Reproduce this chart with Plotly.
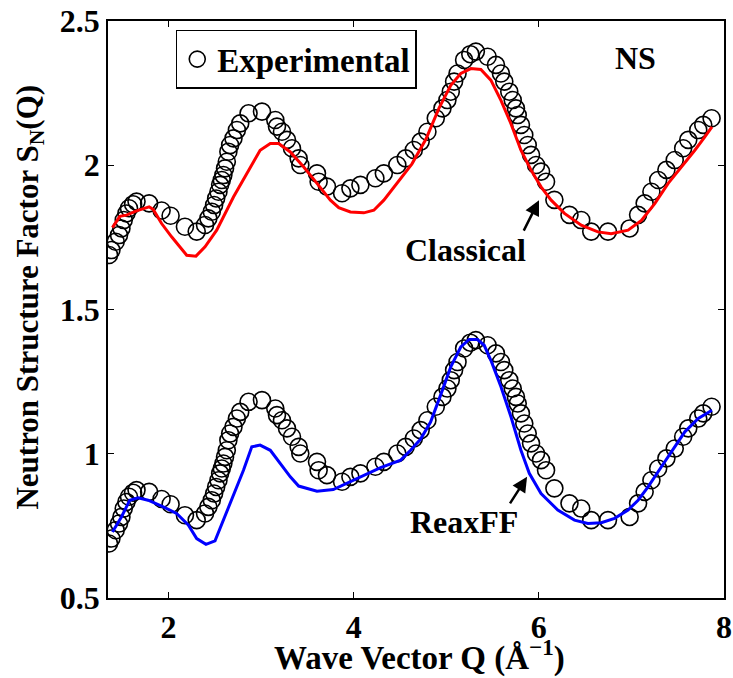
import plotly.graph_objects as go

# ---- data ----
exp_q = [1.358, 1.384, 1.430, 1.466, 1.492, 1.517, 1.546, 1.574, 1.618, 1.655,
         1.791, 1.926, 2.023, 2.178, 2.305, 2.395, 2.431, 2.468, 2.493, 2.515,
         2.540, 2.558, 2.576, 2.593, 2.611, 2.630, 2.647, 2.666, 2.702, 2.739,
         2.775, 2.865, 3.010, 3.154, 3.172, 3.226, 3.280, 3.334, 3.406, 3.424,
         3.604, 3.622, 3.712, 3.875, 3.965, 4.073, 4.235, 4.326, 4.472, 4.562,
         4.650, 4.724, 4.797, 4.887, 4.959, 5.013, 5.049, 5.085, 5.122, 5.193,
         5.260, 5.320, 5.447, 5.537, 5.591, 5.627, 5.681, 5.718, 5.753, 5.772,
         5.807, 5.843, 5.880, 5.916, 5.970, 6.024, 6.078, 6.168, 6.331, 6.458,
         6.566, 6.747, 6.981, 7.072, 7.143, 7.216, 7.289, 7.378, 7.468, 7.559,
         7.614, 7.722, 7.776, 7.866]

exp_lower = [0.689, 0.706, 0.735, 0.758, 0.781, 0.810, 0.833, 0.851, 0.865, 0.874,
             0.868, 0.843, 0.825, 0.787, 0.770, 0.793, 0.816, 0.839, 0.862, 0.885,
             0.908, 0.932, 0.949, 0.966, 0.989, 1.012, 1.047, 1.070, 1.093, 1.122,
             1.145, 1.180, 1.186, 1.157, 1.134, 1.116, 1.088, 1.059, 1.024, 1.001,
             0.972, 0.943, 0.926, 0.903, 0.920, 0.932, 0.955, 0.972, 1.001, 1.024,
             1.053, 1.082, 1.116, 1.163, 1.197, 1.226, 1.255, 1.290, 1.318, 1.365,
             1.385, 1.394, 1.376, 1.348, 1.318, 1.290, 1.255, 1.226, 1.197, 1.174,
             1.140, 1.105, 1.070, 1.036, 1.001, 0.978, 0.943, 0.880, 0.828, 0.810,
             0.770, 0.770, 0.781, 0.828, 0.868, 0.908, 0.949, 0.984, 1.018, 1.059,
             1.088, 1.122, 1.140, 1.163]

exp_upper = [1.689, 1.706, 1.735, 1.758, 1.781, 1.810, 1.833, 1.851, 1.865, 1.874,
             1.868, 1.843, 1.825, 1.787, 1.770, 1.793, 1.816, 1.839, 1.862, 1.885,
             1.908, 1.932, 1.949, 1.966, 1.989, 2.012, 2.047, 2.070, 2.093, 2.122,
             2.145, 2.180, 2.186, 2.157, 2.134, 2.116, 2.088, 2.059, 2.024, 2.001,
             1.972, 1.943, 1.926, 1.903, 1.920, 1.932, 1.955, 1.972, 2.001, 2.024,
             2.053, 2.082, 2.116, 2.163, 2.197, 2.226, 2.255, 2.290, 2.318, 2.365,
             2.385, 2.394, 2.376, 2.348, 2.318, 2.290, 2.255, 2.226, 2.197, 2.174,
             2.140, 2.105, 2.070, 2.036, 2.001, 1.978, 1.943, 1.880, 1.828, 1.810,
             1.770, 1.770, 1.781, 1.828, 1.868, 1.908, 1.949, 1.984, 2.018, 2.059,
             2.088, 2.122, 2.140, 2.163]

classical_q = [1.395, 1.474, 1.546, 1.655, 1.791, 1.835, 1.926, 2.034, 2.197, 2.297,
               2.395, 2.521, 2.702, 2.882, 2.990, 3.100, 3.190, 3.316, 3.461, 3.604,
               3.749, 3.839, 3.965, 4.110, 4.218, 4.326, 4.470, 4.630, 4.780, 4.922,
               5.049, 5.157, 5.266, 5.374, 5.482, 5.591, 5.699, 5.807, 5.916, 6.024,
               6.133, 6.277, 6.458, 6.638, 6.782, 6.964, 7.108, 7.252, 7.397, 7.541,
               7.685, 7.793, 7.870]
classical_s = [1.784, 1.823, 1.827, 1.842, 1.856, 1.847, 1.798, 1.752, 1.688, 1.685,
               1.717, 1.775, 1.890, 1.994, 2.052, 2.075, 2.075, 2.046, 1.994, 1.937,
               1.879, 1.853, 1.838, 1.835, 1.844, 1.879, 1.940, 2.005, 2.090, 2.198,
               2.277, 2.318, 2.335, 2.332, 2.295, 2.225, 2.144, 2.052, 1.983, 1.925,
               1.879, 1.833, 1.792, 1.769, 1.763, 1.775, 1.809, 1.867, 1.937, 1.994,
               2.052, 2.098, 2.133]

reaxff_q = [1.395, 1.492, 1.582, 1.672, 1.780, 1.944, 2.088, 2.214, 2.305, 2.405,
            2.503, 2.593, 2.702, 2.810, 2.900, 2.990, 3.100, 3.208, 3.316, 3.406,
            3.604, 3.780, 3.965, 4.146, 4.291, 4.508, 4.615, 4.722, 4.831, 4.941,
            5.049, 5.157, 5.247, 5.338, 5.410, 5.482, 5.591, 5.699, 5.807, 5.897,
            6.024, 6.205, 6.385, 6.530, 6.674, 6.818, 6.964, 7.072, 7.180, 7.324,
            7.468, 7.577, 7.722, 7.870]
reaxff_s = [0.729, 0.781, 0.839, 0.847, 0.839, 0.816, 0.793, 0.753, 0.706, 0.686,
            0.698, 0.770, 0.862, 0.943, 1.024, 1.030, 1.012, 0.966, 0.920, 0.888,
            0.870, 0.876, 0.903, 0.932, 0.952, 0.978, 1.012, 1.050, 1.110, 1.205,
            1.301, 1.370, 1.396, 1.396, 1.376, 1.324, 1.232, 1.128, 1.012, 0.932,
            0.862, 0.805, 0.770, 0.758, 0.761, 0.776, 0.805, 0.839, 0.885, 0.955,
            1.024, 1.076, 1.122, 1.151]

x_ticks = [2, 4, 6, 8]
y_ticks = [0.5, 1, 1.5, 2, 2.5]

FONT = "Liberation Serif"

fig = go.Figure()

marker_style = dict(symbol="circle-open", size=17, color="black", line=dict(width=1.6, color="black"))

fig.add_trace(go.Scatter(x=exp_q, y=exp_upper, mode="markers", marker=marker_style,
                         name="<b>Experimental</b>", showlegend=True))
fig.add_trace(go.Scatter(x=exp_q, y=exp_lower, mode="markers", marker=marker_style,
                         name="Experimental", showlegend=False))
fig.add_trace(go.Scatter(x=classical_q, y=classical_s, mode="lines",
                         line=dict(color="#ff0000", width=3), name="Classical", showlegend=False))
fig.add_trace(go.Scatter(x=reaxff_q, y=reaxff_s, mode="lines",
                         line=dict(color="#0000ff", width=3), name="ReaxFF", showlegend=False))

axis_common = dict(showline=True, linecolor="black", linewidth=1.5, mirror="ticks",
                   ticks="inside", ticklen=6, tickwidth=1, tickcolor="black",
                   showgrid=False, zeroline=False, automargin=False,
                   tickfont=dict(family=FONT, size=32, color="black"))

fig.update_xaxes(range=[1.347, 8], tickvals=x_ticks, ticktext=["<b>%g</b>" % v for v in x_ticks],
                 ticklabelstandoff=0, **axis_common)
fig.update_yaxes(range=[0.5, 2.5], tickvals=y_ticks, ticktext=["<b>%g</b>" % v for v in y_ticks],
                 **axis_common)

ann_font = dict(family=FONT, size=32, color="black")

fig.update_layout(
    width=733, height=678,
    margin=dict(l=108, r=9, t=21, b=80, autoexpand=False),
    paper_bgcolor="white", plot_bgcolor="white",
    font=dict(family=FONT, color="black"),
    legend=dict(x=0.110, y=0.985, xanchor="left", yanchor="top",
                bordercolor="black", borderwidth=1.5, bgcolor="white",
                font=dict(family=FONT, size=33, color="black")),
    annotations=[
        dict(text="<b>NS</b>", x=7.049, y=2.372, xref="x", yref="y", showarrow=False, font=ann_font),
        dict(text="<b>Classical</b>", x=5.212, y=1.705, xref="x", yref="y", showarrow=False, font=ann_font),
        dict(text="<b>ReaxFF</b>", x=5.190, y=0.763, xref="x", yref="y", showarrow=False, font=ann_font),
        dict(text="", x=6.002, y=1.879, xref="x", yref="y", ax=-16, ay=32,
             showarrow=True, arrowhead=2, arrowsize=1.2, arrowwidth=2.5, arrowcolor="black"),
        dict(text="", x=5.873, y=0.920, xref="x", yref="y", ax=-18, ay=28,
             showarrow=True, arrowhead=2, arrowsize=1.2, arrowwidth=2.5, arrowcolor="black"),
        dict(text="<b>Neutron Structure Factor S<sub>N</sub>(Q)</b>", textangle=-90,
             x=-0.127, y=0.522, xref="paper", yref="paper", showarrow=False,
             xanchor="center", yanchor="middle",
             font=dict(family=FONT, size=31, color="black")),
        dict(text="<b>Wave Vector Q (Å<sup>−1</sup>)</b>",
             x=0.505, y=-0.099, xref="paper", yref="paper", showarrow=False,
             xanchor="center", yanchor="middle",
             font=dict(family=FONT, size=33, color="black")),
    ],
)

fig.write_html("out.html")
